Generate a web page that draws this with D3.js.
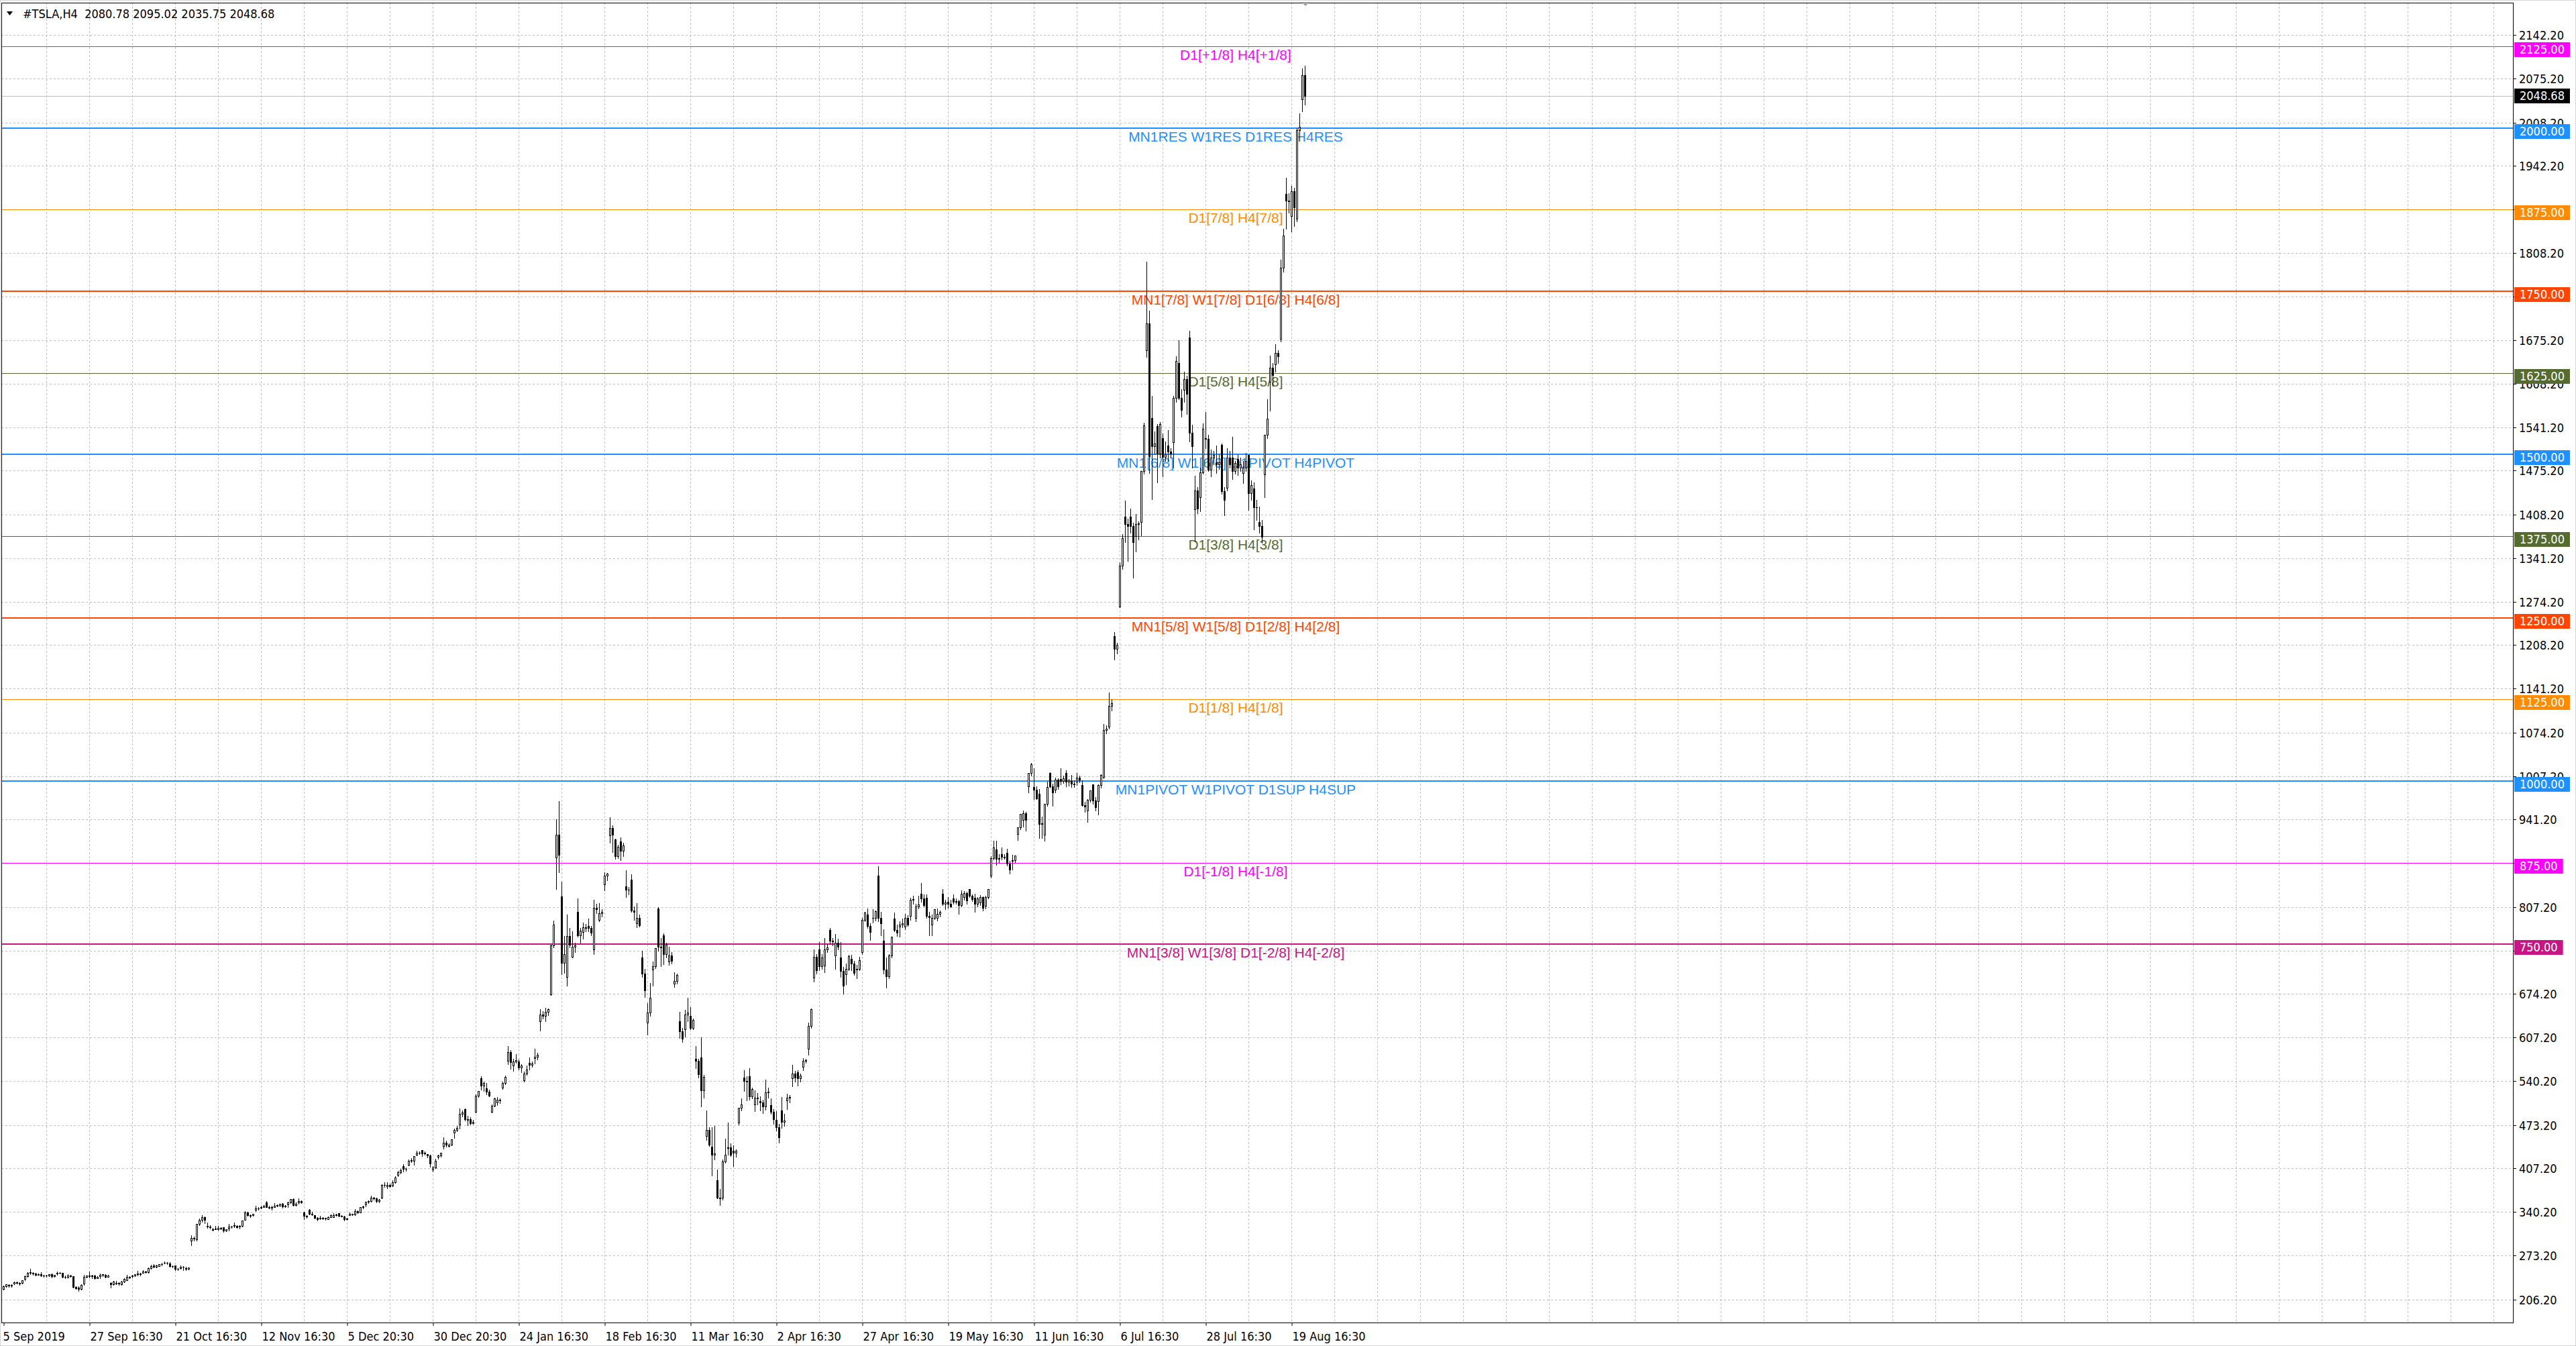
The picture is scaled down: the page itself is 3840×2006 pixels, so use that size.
<!DOCTYPE html>
<html><head><meta charset="utf-8">
<script src="https://cdn.jsdelivr.net/npm/d3@7"></script>
<style>html,body{margin:0;padding:0;background:#fff;overflow:hidden}svg{display:block}</style>
</head><body><script>
// ---------- DATA ----------
const symbolTitle = "#TSLA,H4";
const lastBarOHLC = [2080.78, 2095.02, 2035.75, 2048.68];
const lastPrice = 2048.68;

// H4 candles [open, high, low, close], 5 Sep 2019 16:30 .. 21 Aug 2020 20:30
const bars = [
[222.5,227.0,220.9,226.0],[226.0,229.8,225.0,229.6],
[227.2,229.6,225.5,228.0],[228.0,229.0,225.2,227.5],
[230.0,233.8,229.4,232.5],[232.5,233.0,230.0,231.8],
[230.8,232.0,228.7,231.0],[231.0,235.9,230.5,235.5],
[237.4,243.0,236.0,242.0],[242.0,248.0,241.0,247.1],
[247.9,253.5,245.0,246.5],[246.5,247.5,243.5,245.9],
[246.0,247.0,242.6,244.0],[244.0,246.0,243.5,245.2],
[245.2,247.4,242.0,243.0],[243.0,244.0,240.8,242.8],
[243.0,244.0,240.5,242.5],[242.5,245.2,242.0,244.8],
[245.0,246.0,239.7,241.5],[241.5,244.0,241.0,243.5],
[246.0,248.4,243.4,247.0],[247.0,248.0,245.5,246.6],
[246.5,247.0,240.0,241.0],[241.0,242.5,238.1,240.6],
[240.0,245.2,239.2,243.0],[243.0,244.0,240.5,241.2],
[241.5,241.9,224.0,225.0],[225.0,226.0,222.6,223.2],
[224.6,226.0,219.4,222.0],[222.0,228.9,221.5,228.7],
[230.7,243.3,228.4,241.0],[241.0,243.0,239.5,242.6],
[242.2,248.7,240.0,242.5],[242.5,244.0,238.7,242.1],
[243.0,243.5,237.4,239.0],[239.0,241.5,238.5,240.9],
[241.5,245.8,239.1,243.5],[243.5,245.0,242.0,244.7],
[243.3,244.7,239.6,241.0],[241.0,243.5,240.5,243.1],
[231.9,232.5,224.3,229.0],[229.0,234.5,228.5,233.0],
[231.6,234.8,229.0,230.0],[230.0,232.0,228.1,231.4],
[229.8,234.0,228.6,233.0],[233.0,238.6,232.5,237.7],
[235.8,243.8,235.3,241.0],[241.0,242.0,238.5,240.1],
[241.3,243.5,239.9,242.5],[242.5,244.7,242.0,244.5],
[245.0,249.7,243.0,246.0],[246.0,247.0,242.5,244.7],
[247.0,250.7,246.8,249.0],[249.0,250.0,247.0,247.9],
[247.9,255.0,247.1,254.0],[254.0,258.9,253.0,257.0],
[257.7,260.0,255.0,256.5],[256.5,259.0,255.5,257.9],
[257.4,260.5,256.9,260.0],[260.0,262.1,258.5,259.8],
[262.5,264.8,261.0,262.5],[262.5,263.5,260.2,262.0],
[260.7,262.8,256.0,257.0],[257.0,258.5,255.1,256.9],
[258.3,258.5,251.0,252.5],[252.5,254.5,250.9,253.5],
[254.3,258.3,252.5,256.5],[256.5,257.5,250.9,255.6],
[254.5,256.1,250.6,253.0],[253.0,255.5,252.0,254.7],
[296.0,304.0,288.5,300.0],[300.0,302.0,296.0,299.7],
[297.7,322.0,296.1,321.5],[321.5,330.0,320.0,328.1],
[327.5,335.0,325.0,332.0],[332.0,333.5,322.6,327.7],
[319.0,324.3,316.0,318.0],[318.0,320.0,314.8,316.2],
[313.0,316.0,311.2,314.0],[314.0,318.8,313.5,315.0],
[313.1,319.0,313.0,316.0],[316.0,317.0,314.0,314.9],
[316.3,316.5,309.8,312.0],[312.0,314.0,311.0,313.3],
[314.8,321.9,311.8,318.0],[318.0,319.0,316.0,317.5],
[319.6,323.5,317.0,319.0],[319.0,320.0,316.1,317.2],
[318.0,320.0,314.5,318.5],[318.5,326.7,318.0,326.6],
[328.0,341.5,327.5,339.0],[339.0,340.0,334.0,335.5],
[334.0,336.5,332.5,335.0],[335.0,337.5,334.5,337.1],
[343.9,349.9,341.3,345.0],[345.0,347.0,343.5,345.1],
[346.9,350.0,345.0,348.0],[348.0,350.5,347.0,349.9],
[355.0,356.3,347.0,348.0],[348.0,349.5,345.2,346.1],
[346.1,350.0,342.9,348.0],[348.0,353.8,347.0,349.4],
[350.6,352.0,348.4,350.0],[350.0,352.8,349.5,352.2],
[352.9,353.2,346.7,349.0],[349.0,351.0,347.5,350.0],
[351.8,356.0,347.8,355.0],[355.0,360.0,354.0,359.5],
[360.0,361.2,349.6,351.0],[351.0,355.0,350.0,352.2],
[354.5,360.8,353.0,357.0],[357.0,358.0,353.5,354.8],
[339.0,340.5,329.0,334.0],[334.0,335.5,331.0,333.0],
[343.5,344.5,336.5,337.5],[337.5,340.0,335.4,336.3],
[335.3,335.5,330.5,331.0],[331.0,332.0,327.1,328.9],
[331.1,333.9,328.6,330.5],[330.5,332.0,329.0,331.3],
[331.1,331.3,327.5,329.9],
[329.4,333.0,328.7,332.5],[332.5,336.4,332.0,334.9],
[332.6,337.9,332.2,335.0],[335.0,337.0,334.0,336.2],
[337.8,337.9,333.5,334.5],[334.5,335.5,332.8,333.0],
[332.8,334.4,327.3,329.0],[329.0,331.5,328.5,330.4],
[335.0,338.9,334.8,337.0],[337.0,337.5,335.0,335.9],
[336.6,344.5,335.4,341.0],[341.0,342.0,338.5,339.5],
[339.8,348.0,339.2,347.0],[347.0,350.0,345.5,348.8],
[351.4,356.0,348.9,355.5],[355.5,358.0,354.0,357.0],
[357.0,365.0,356.0,362.0],[362.0,363.0,359.0,361.0],
[361.0,362.0,355.0,357.0],[357.0,360.0,355.0,358.4],
[362.0,382.0,361.0,381.0],[381.0,386.0,378.0,381.5],
[379.0,385.5,376.0,381.0],[381.0,383.0,378.0,379.0],
[380.6,389.0,379.0,386.0],[386.0,395.0,385.0,393.2],
[397.3,403.0,395.0,401.0],[401.0,405.7,399.0,404.0],
[410.3,413.0,402.0,406.0],[406.0,408.0,403.0,405.6],
[411.8,420.0,410.8,418.0],[418.0,422.0,416.0,419.2],
[418.4,425.5,412.7,425.2],
[427.9,433.5,426.3,431.0],[431.0,432.5,429.0,430.9],
[435.0,435.3,426.1,430.0],[430.0,433.0,428.0,430.4],
[428.8,429.0,424.0,427.0],[427.0,428.0,409.3,414.7],
[405.0,410.0,402.1,408.0],[408.0,421.3,407.0,418.3],
[424.5,428.0,421.7,427.0],[427.0,430.7,425.0,430.3],
[440.5,454.0,436.9,446.0],[446.0,449.0,440.0,443.0],
[440.5,445.0,440.0,443.0],[443.0,451.6,442.0,451.5],
[461.4,468.0,453.6,466.0],[466.0,471.6,464.0,469.1],
[473.7,498.5,468.2,490.0],[490.0,495.0,486.0,492.1],
[497.1,498.8,480.0,482.0],[482.0,487.0,472.9,481.3],
[481.8,484.9,473.7,476.0],[476.0,481.0,474.5,478.2],
[493.5,520.0,492.0,518.0],[518.0,525.6,516.0,524.9],
[544.3,547.4,527.0,533.0],[533.0,540.0,524.9,537.9],
[529.8,537.8,520.0,524.0],[524.0,527.0,516.8,518.5],
[493.8,505.0,492.2,503.0],[503.0,514.5,502.0,513.5],
[507.6,515.7,503.2,512.0],[512.0,514.0,507.0,510.5],
[530.2,540.0,528.4,538.0],[538.0,548.6,536.0,547.2],
[571.9,594.5,566.0,585.0],[585.0,588.0,559.1,569.6],
[564.3,575.0,555.6,570.0],[570.0,582.0,568.0,572.2],
[570.6,573.9,558.0,561.0],[561.0,566.0,554.3,564.8],
[542.0,555.0,539.3,552.0],[552.0,564.4,550.0,558.0],
[568.5,576.8,558.1,565.0],[565.0,570.0,562.0,566.9],
[575.7,589.8,567.4,578.0],[578.0,584.0,574.0,581.0],
[632.4,650.9,618.0,642.0],[642.0,648.0,636.0,640.8],
[640.0,653.0,632.5,646.0],[646.0,652.0,641.0,650.6],
[673.7,750.0,672.0,748.0],[748.0,786.1,745.0,780.0],
[883.0,941.0,834.0,918.0],[918.0,969.0,860.0,887.1],
[823.3,846.0,704.1,722.0],[722.0,763.0,706.0,734.7],
[699.9,795.8,687.0,763.0],[763.0,775.0,745.0,749.0],
[730.6,769.8,730.0,746.0],[746.0,752.0,738.0,748.1],
[800.0,820.0,762.0,764.0],[764.0,775.0,752.4,771.3],
[768.8,783.5,758.0,776.0],[776.0,781.0,770.0,774.4],
[777.9,789.8,770.0,775.0],[775.0,778.0,763.4,767.3],
[741.8,818.0,735.0,806.0],[806.0,812.0,798.0,804.0],
[787.2,813.0,785.5,798.0],[798.0,804.0,792.0,800.0],
[841.6,860.0,832.4,855.0],[855.0,859.0,848.0,858.4],
[917.0,944.8,905.0,928.0],[928.0,932.0,890.6,917.4],
[911.0,912.0,880.5,884.6],[884.6,902.0,882.0,899.4],
[907.0,913.1,879.0,893.0],[893.0,905.0,885.0,901.0],
[839.0,863.5,822.2,833.0],[833.0,838.0,826.0,833.8],
[849.0,856.6,800.0,802.0],[802.0,808.0,787.0,799.9],
[782.5,813.3,776.1,790.0],[790.0,795.0,776.5,778.8],
[730.0,739.8,700.0,705.0],[705.0,712.0,669.0,679.0],
[630.0,660.0,611.5,645.0],[645.0,690.2,640.0,668.0],
[711.3,724.0,686.7,716.0],[716.0,743.7,713.0,743.6],
[805.0,807.0,740.0,746.0],[746.0,760.0,716.1,745.5],
[764.0,766.5,719.0,735.0],[735.0,752.0,730.0,749.5],
[723.8,745.8,718.1,733.0],[733.0,738.0,720.0,724.5],
[690.0,707.0,684.3,694.0],[694.0,705.0,690.0,703.5],
[632.0,646.0,606.0,617.0],[617.0,622.0,600.0,605.0],
[620.0,650.0,608.0,642.0],[642.0,668.0,632.0,645.3],
[640.2,653.6,620.0,622.0],[622.0,636.0,620.0,634.2],
[575.0,594.5,560.0,571.0],[571.0,575.0,546.3,551.0],
[577.0,607.6,502.0,526.0],[526.0,550.0,515.0,546.6],
[456.0,495.0,450.0,466.0],[466.0,470.0,441.0,443.0],
[440.0,469.5,396.0,428.0],[428.0,471.9,420.0,430.2],
[389.0,404.9,361.0,362.0],[362.0,375.0,350.5,361.2],
[362.0,420.0,358.5,417.6],[417.6,452.0,415.0,427.6],
[438.2,477.0,428.0,439.0],[439.0,445.0,425.8,427.5],
[433.6,442.0,410.5,431.0],[431.0,436.0,425.0,434.3],
[477.3,500.0,474.0,499.7],[499.7,513.7,495.0,505.0],
[545.3,557.0,525.0,541.0],[541.0,548.0,511.1,539.3],
[547.4,560.0,512.3,517.0],[517.0,530.0,514.0,528.2],
[505.0,525.8,494.0,515.0],[515.0,522.0,505.0,514.4],
[510.3,516.7,495.0,508.0],[508.0,512.0,491.2,502.1],
[501.3,543.0,497.0,523.5],[523.5,530.0,515.0,524.0],
[504.0,514.0,490.0,493.0],[493.0,498.0,475.1,481.6],
[481.0,494.3,465.0,469.5],[469.5,475.0,446.4,454.5],
[495.0,515.5,468.3,478.0],[478.0,490.0,472.0,480.0],
[511.2,521.0,498.0,515.0],[515.0,519.0,508.0,516.2],
[545.0,565.0,532.3,552.0],[552.0,556.0,540.0,545.5],
[554.2,557.2,533.3,545.0],[545.0,552.0,540.0,548.8],
[562.1,575.2,557.1,572.0],[572.0,575.0,568.0,573.0],
[590.2,630.0,580.5,625.0],[625.0,652.0,622.0,651.0],
[699.0,741.9,692.4,731.0],[731.0,735.0,705.0,709.9],
[742.0,753.1,710.0,716.0],[716.0,735.0,712.0,729.8],
[716.9,759.5,706.7,742.0],[742.0,750.0,738.0,745.2],
[772.3,775.0,750.0,755.0],[755.0,760.0,747.7,753.9],
[732.7,765.6,712.2,752.0],[752.0,758.0,742.0,746.4],
[730.1,753.3,700.0,709.5],[709.5,715.0,673.8,686.7],
[704.0,720.0,688.7,712.0],[712.0,734.0,710.0,732.1],
[727.6,734.0,710.0,720.0],[720.0,725.0,703.1,705.6],
[710.8,718.0,698.2,712.0],[712.0,730.7,710.0,725.2],
[737.6,790.0,735.0,787.0],[787.0,799.5,785.0,798.8],
[795.6,805.0,775.0,778.0],[778.0,782.0,756.7,769.1],
[790.2,803.2,783.2,790.0],[790.0,802.0,786.0,800.5],
[855.2,869.8,785.0,790.0],[790.0,800.0,763.5,781.9],
[755.0,772.8,705.0,711.0],[711.0,730.0,683.0,701.3],
[701.0,735.0,698.0,733.0],[733.0,762.0,730.0,761.2],
[789.8,798.9,770.0,772.0],[772.0,780.0,762.2,768.2],
[776.5,785.0,761.1,780.0],[780.0,789.8,776.0,782.6],
[777.2,796.4,772.4,790.0],[790.0,794.0,778.0,780.0],
[793.8,821.0,787.0,818.0],[818.0,824.0,812.0,819.4],
[790.5,812.0,785.0,808.0],[808.0,824.0,805.0,811.3],
[827.0,843.3,815.0,820.0],[820.0,826.0,808.0,809.4],
[820.8,826.0,790.0,793.0],[793.0,800.0,763.3,791.0],
[780.0,795.0,764.0,790.0],[790.0,803.4,788.0,803.3],
[790.4,805.0,786.6,796.0],[796.0,802.0,792.0,799.2],
[827.8,834.7,810.0,812.0],[812.0,818.0,803.9,813.6],
[815.2,822.1,806.1,812.0],[812.0,818.0,806.5,808.0],
[820.5,826.0,811.8,815.0],[815.0,820.0,812.0,815.6],
[816.0,818.0,796.0,810.0],[810.0,832.5,808.0,827.6],
[822.2,831.8,818.0,828.0],[828.0,830.0,812.0,816.9],
[834.5,834.6,822.0,824.0],[824.0,826.0,815.7,818.9],
[820.9,827.7,800.0,812.0],[812.0,822.0,808.0,820.2],
[813.5,824.8,810.0,822.0],[822.0,823.0,801.7,805.8],
[808.8,824.0,804.2,822.0],[822.0,835.0,820.0,835.0],
[855.0,885.0,852.0,882.0],[882.0,908.0,880.0,897.8],
[894.7,908.7,871.0,881.0],[881.0,888.0,875.0,881.6],
[888.1,897.9,880.1,884.0],[884.0,888.0,881.0,883.0],
[889.9,895.8,870.0,874.0],[874.0,878.0,858.4,864.4],
[877.8,886.5,864.7,879.0],[879.0,886.0,876.0,885.7],
[919.0,928.0,909.2,928.6],[928.6,950.0,926.0,949.9],
[940.0,954.4,930.0,951.0],[951.0,953.0,923.9,940.7],
[991.9,1012.5,982.5,1012.5],[1012.5,1027.5,1008.0,1025.1],
[990.2,1019.0,972.0,987.0],[987.0,992.0,972.0,972.8],
[980.0,988.0,912.6,933.8],[933.8,945.0,913.0,935.3],
[917.8,965.0,908.5,964.6],[964.6,998.8,962.0,990.9],
[1011.9,1012.9,990.0,992.0],[992.0,996.0,962.4,982.1],
[987.0,1005.0,982.6,1002.3],[1002.3,1004.0,988.0,991.8],
[1003.0,1019.1,994.5,1000.0],[1000.0,1008.0,997.0,1004.0],
[1012.7,1016.0,991.3,999.0],[999.0,1003.0,993.0,1000.9],
[1000.0,1008.9,991.0,996.0],[996.0,1001.0,991.0,994.3],
[998.9,1012.0,994.0,1005.0],[1005.0,1008.0,998.0,1001.8],
[994.1,1000.9,962.0,963.0],[963.0,968.0,953.1,960.9],
[954.3,972.0,937.2,971.4],[971.4,986.0,968.0,986.0],
[994.8,995.0,965.0,969.7],[969.7,975.0,954.9,959.7],
[969.0,995.0,948.5,993.7],[993.7,1010.0,990.0,1009.4],
[1006.5,1087.7,1003.7,1077.6],[1077.6,1085.0,1073.0,1079.8],
[1083.0,1135.3,1080.5,1115.0],[1115.0,1125.0,1108.0,1119.6],
[1221.5,1228.0,1185.6,1202.6],[1202.6,1212.0,1195.0,1208.7],
[1267.0,1335.0,1266.0,1330.0],[1330.0,1377.8,1325.0,1371.6],
[1405.0,1429.5,1366.0,1393.0],[1393.0,1402.0,1337.0,1389.9],
[1405.0,1417.3,1380.0,1390.0],[1390.0,1395.0,1311.3,1365.9],
[1375.0,1408.6,1351.3,1393.0],[1393.0,1398.0,1370.0,1394.3],
[1396.0,1475.0,1376.0,1475.0],[1475.0,1548.9,1470.0,1544.7],
[1659.0,1795.0,1649.0,1701.0],[1701.0,1720.0,1471.1,1497.1],
[1556.0,1590.0,1431.0,1513.0],[1513.0,1535.0,1500.0,1516.8],
[1543.0,1547.0,1457.0,1501.0],[1501.0,1550.0,1495.0,1546.0],
[1525.0,1531.7,1466.0,1496.0],[1496.0,1520.0,1490.0,1500.6],
[1513.5,1537.5,1490.0,1504.0],[1504.0,1510.0,1495.0,1500.8],
[1519.0,1590.0,1480.0,1587.0],[1587.0,1650.0,1580.0,1643.0],
[1639.9,1675.0,1585.0,1587.0],[1587.0,1600.0,1558.0,1568.4],
[1599.0,1626.4,1580.0,1615.0],[1615.0,1620.0,1562.0,1592.3],
[1678.9,1689.0,1520.0,1533.0],[1533.0,1545.0,1480.0,1513.1],
[1416.0,1467.0,1366.5,1445.0],[1445.0,1450.0,1410.0,1417.0],
[1435.0,1480.0,1413.0,1473.0],[1473.0,1547.9,1470.0,1539.6],
[1525.2,1564.7,1510.0,1524.0],[1524.0,1530.0,1474.4,1476.5],
[1476.8,1507.0,1466.0,1495.0],[1495.0,1505.0,1485.0,1499.1],
[1488.0,1513.2,1471.0,1485.0],[1485.0,1500.0,1478.0,1487.5],
[1515.0,1517.1,1440.0,1444.0],[1444.0,1450.0,1407.0,1430.8],
[1449.2,1509.8,1444.4,1495.0],[1495.0,1505.0,1480.0,1485.0],
[1495.0,1527.0,1462.0,1475.0],[1475.0,1490.0,1470.0,1487.0],
[1493.0,1499.8,1468.3,1480.0],[1480.0,1495.0,1475.0,1485.0],
[1471.8,1490.0,1456.0,1480.0],[1480.0,1502.4,1475.0,1489.6],
[1499.0,1499.0,1415.0,1441.0],[1441.0,1460.0,1430.0,1452.7],
[1448.0,1457.5,1385.0,1419.0],[1419.0,1430.0,1400.0,1418.6],
[1396.0,1420.0,1380.0,1390.0],[1390.0,1400.0,1365.0,1374.4],
[1469.3,1530.0,1435.0,1530.0],[1530.0,1585.0,1525.0,1554.8],
[1611.0,1651.2,1567.3,1633.0],[1633.0,1640.0,1605.0,1621.0],
[1638.0,1668.8,1626.6,1655.0],[1655.0,1660.0,1640.0,1650.7],
[1677.0,1798.0,1672.8,1786.0],[1786.0,1845.9,1780.0,1835.6],
[1898.9,1923.9,1845.1,1889.0],[1889.0,1900.0,1870.0,1887.1],
[1865.0,1911.0,1841.0,1903.0],[1903.0,1908.0,1850.0,1878.5],
[1860.7,2000.0,1857.1,1997.0],[1997.0,2022.0,1980.0,2001.8],
[2044.0,2091.0,2025.0,2080.8],[2080.78,2095.02,2035.75,2048.68]
];

// Time axis labels (bar index -> text)
const dateTickIndex = [0,32,64,96,128,160,192,224,256,288,320,352,384,416,448,480];
const dateTickLabels = ["5 Sep 2019","27 Sep 16:30","21 Oct 16:30","12 Nov 16:30","5 Dec 20:30","30 Dec 20:30","24 Jan 16:30","18 Feb 16:30","11 Mar 16:30","2 Apr 16:30","27 Apr 16:30","19 May 16:30","11 Jun 16:30","6 Jul 16:30","28 Jul 16:30","19 Aug 16:30"];

// Price axis grid values; labels fully covered by level boxes in the original are not printed
const priceTickLabels = ["2142.20","2075.20","2008.20","1942.20","1875.20","1808.20","1741.20","1675.20","1608.20","1541.20","1475.20","1408.20","1341.20","1274.20","1208.20","1141.20","1074.20","1007.20","941.20","874.20","807.20","740.20","674.20","607.20","540.20","473.20","407.20","340.20","273.20","206.20"];
const coveredTickLabels = ["1875.20","1741.20","874.20","740.20"];

// Murrey-math style levels
const levelValues = [2125,2000,1875,1750,1625,1500,1375,1250,1125,1000,875,750];
const levelTexts = ["D1[+1/8] H4[+1/8]","MN1RES W1RES D1RES H4RES","D1[7/8] H4[7/8]","MN1[7/8] W1[7/8] D1[6/8] H4[6/8]","D1[5/8] H4[5/8]","MN1[6/8] W1[6/8] D1PIVOT H4PIVOT","D1[3/8] H4[3/8]","MN1[5/8] W1[5/8] D1[2/8] H4[2/8]","D1[1/8] H4[1/8]","MN1PIVOT W1PIVOT D1SUP H4SUP","D1[-1/8] H4[-1/8]","MN1[3/8] W1[3/8] D1[-2/8] H4[-2/8]"];

// ---------- STYLE ----------
const levelStyle = {
 2125:{c:"#FF00FF",w:1}, 2000:{c:"#1E90FF",w:2}, 1875:{c:"#FF8C00",w:1}, 1750:{c:"#FF4500",w:2},
 1625:{c:"#556B2F",w:1}, 1500:{c:"#1E90FF",w:2}, 1375:{c:"#556B2F",w:1}, 1250:{c:"#FF4500",w:2},
 1125:{c:"#FF8C00",w:1}, 1000:{c:"#1E90FF",w:2}, 875:{c:"#FF00FF",w:1}, 750:{c:"#C71585",w:2}
};
const FONT = "'DejaVu Sans Condensed','DejaVu Sans',sans-serif";
const LFONT = "'Liberation Sans',Arial,sans-serif";
const W = 3840, H = 2006;
const P = {left:2, top:4, right:3746, bottom:1971};

const svg = d3.select("body").append("svg").attr("width",W).attr("height",H);
svg.append("rect").attr("width",W).attr("height",H).attr("fill","#ffffff");
svg.append("rect").attr("x",0.5).attr("y",0.5).attr("width",W-1).attr("height",H-1)
  .attr("fill","none").attr("stroke","#d4d4d4").attr("stroke-width",1);

const x = d3.scaleLinear().domain([0,935]).range([5.5,3745.5]);
const y = d3.scaleLinear().domain([170.8,2191.7]).range([P.bottom,P.top]);
const yr = v => Math.round(y(v)) + 0.5;

svg.append("defs").append("clipPath").attr("id","plotclip").append("rect")
  .attr("x",P.left).attr("y",P.top).attr("width",P.right-P.left).attr("height",P.bottom-P.top);

// grid
const grid = svg.append("g").attr("clip-path","url(#plotclip)");
grid.selectAll("line.h").data(priceTickLabels).join("line").attr("class","h")
  .attr("x1",P.left).attr("x2",P.right).attr("y1",d=>yr(+d)).attr("y2",d=>yr(+d))
  .attr("stroke","#c0c0c0").attr("stroke-dasharray","3,3");
grid.selectAll("line.v").data(d3.range(16,935,16)).join("line").attr("class","v")
  .attr("x1",d=>x(d)).attr("x2",d=>x(d)).attr("y1",P.top).attr("y2",P.bottom)
  .attr("stroke","#c0c0c0").attr("stroke-dasharray","3,3");

// levels
const lv = svg.append("g").attr("clip-path","url(#plotclip)");
levelValues.forEach((v,i)=>{
  const s = levelStyle[v];
  const yy = s.w===2 ? Math.round(y(v)) : yr(v);
  lv.append("line").attr("x1",P.left).attr("x2",P.right).attr("y1",yy).attr("y2",yy)
    .attr("stroke",s.c).attr("stroke-width",s.w);
  lv.append("text").attr("x",1842).attr("y",Math.round(y(v))+20).attr("text-anchor","middle")
    .attr("font-family",LFONT).attr("font-size",21).attr("fill",s.c).text(levelTexts[i]);
});
lv.append("line").attr("x1",P.left).attr("x2",P.right).attr("y1",yr(lastPrice)).attr("y2",yr(lastPrice))
  .attr("stroke","#c0c0c0").attr("stroke-width",1);

// candles
const cg = svg.append("g").attr("clip-path","url(#plotclip)");
const cs = cg.selectAll("g.c").data(bars).join("g").attr("class","c");
cs.append("line")
  .attr("x1",(d,i)=>x(i)).attr("x2",(d,i)=>x(i))
  .attr("y1",d=>Math.round(y(d[1]))).attr("y2",d=>Math.round(y(d[2]))+1)
  .attr("stroke","#000").attr("stroke-width",1);
cs.each(function(d,i){
  const g = d3.select(this);
  const o=d[0], c=d[3];
  const top = Math.round(y(Math.max(o,c))), bot = Math.round(y(Math.min(o,c)));
  const cx = x(i);
  if (bot - top < 1) {
    g.append("line").attr("x1",cx-1.5).attr("x2",cx+1.5).attr("y1",top+0.5).attr("y2",top+0.5).attr("stroke","#000");
  } else if (c >= o) {
    g.append("rect").attr("x",cx-1).attr("y",top+0.5).attr("width",2).attr("height",bot-top)
      .attr("fill","#fff").attr("stroke","#000").attr("stroke-width",1);
  } else {
    g.append("rect").attr("x",cx-1.5).attr("y",top).attr("width",3).attr("height",bot-top+1)
      .attr("fill","#000");
  }
});

// frame
svg.append("rect").attr("x",P.left+0.5).attr("y",P.top+0.5).attr("width",P.right-P.left).attr("height",P.bottom-P.top)
  .attr("fill","none").attr("stroke","#000").attr("stroke-width",1);

// price axis
const yAxis = d3.axisRight(y.copy().interpolate(d3.interpolateRound))
  .tickValues(priceTickLabels.map(Number))
  .tickFormat((d,i)=> coveredTickLabels.includes(priceTickLabels[i]) ? "" : priceTickLabels[i])
  .tickSize(5).tickSizeOuter(0).tickPadding(4);
const ya = svg.append("g").attr("transform",`translate(${P.right},0)`).call(yAxis);
ya.select(".domain").remove();
ya.selectAll("text").attr("font-family",FONT).attr("font-size",18).attr("fill","#000").attr("x",9).attr("dy","0.36em");
ya.selectAll("line").attr("stroke","#000");

// time axis
const xAxis = d3.axisBottom(x).tickValues(dateTickIndex).tickFormat((d,i)=>dateTickLabels[i])
  .tickSize(5).tickSizeOuter(0).tickPadding(6);
const xa = svg.append("g").attr("transform",`translate(0,${P.bottom})`).call(xAxis);
xa.select(".domain").remove();
xa.selectAll("text").attr("font-family",FONT).attr("font-size",18).attr("fill","#000")
  .attr("text-anchor","start").attr("x",(d,i)=> i===0 ? -1.5 : 0.5).attr("dy","0.9em");
xa.selectAll("line").attr("stroke","#000");

// price label boxes (level boxes sit slightly below their line, last price box is centred)
const boxes = levelValues.map(v=>({v, c:levelStyle[v].c, off:5})).concat([{v:lastPrice, c:"#000000", off:0}]);
const bg = svg.append("g");
boxes.forEach(b=>{
  const cy = Math.round(y(b.v)) + b.off;
  const r = bg.append("rect").attr("x",3748).attr("y",cy-11).attr("height",22).attr("fill",b.c);
  const t = bg.append("text").attr("x",3756).attr("y",cy).attr("dy","0.36em")
    .attr("font-family",FONT).attr("font-size",18).attr("fill","#fff").text(b.v.toFixed(2));
  const w = t.node().getComputedTextLength();
  r.attr("width", w + 16);
});

// header
svg.append("path").attr("d","M10,17 L19,17 L14.5,23 Z").attr("fill","#000");
svg.append("text").attr("x",34).attr("y",21).attr("dy","0.36em").attr("font-family",FONT).attr("font-size",18)
  .attr("fill","#000").style("white-space","pre")
  .text(symbolTitle + "  " + lastBarOHLC.map(v=>v.toFixed(2)).join(" "));
svg.append("path").attr("d","M1940,3 L1952,3 L1946,9 Z").attr("fill","#a0a0a0");
</script></body></html>
